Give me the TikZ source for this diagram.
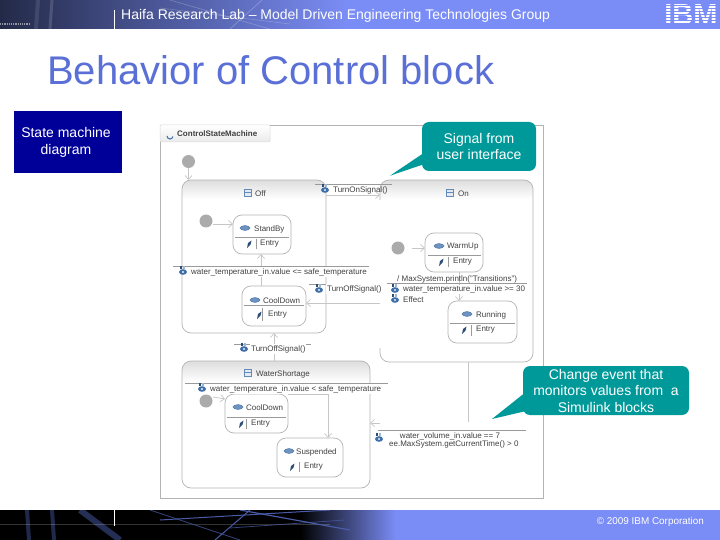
\documentclass[tikz,border=0pt]{standalone}
\usepackage{fontspec}
\setmainfont{Liberation Sans}
\usetikzlibrary{arrows.meta,calc}
\definecolor{bandblue}{HTML}{7A8CF5}
\definecolor{bandmid}{HTML}{4A5CA8}
\definecolor{banddark}{HTML}{232A48}
\definecolor{titleblue}{HTML}{5B70D6}
\definecolor{boxblue}{HTML}{000099}
\definecolor{teal}{HTML}{009999}
\definecolor{conncol}{HTML}{C6C6C6}
\definecolor{framecol}{HTML}{B4B4B4}
\definecolor{linecol}{HTML}{9A9A9A}
\definecolor{evblue}{HTML}{3F6FA8}
\definecolor{initcol}{HTML}{ABABAB}
\definecolor{txtcol}{HTML}{404040}
\tikzset{
  stbox/.style={draw=framecol,line width=.7pt,fill=white,rounded corners=9pt,outer sep=0pt,inner sep=0pt,
    path picture={\foreach \k in {1,...,#1} {
      \pgfmathsetmacro{\shd}{14*(1-\k/#1)}
      \fill[black!\shd,draw=none,rounded corners=0pt]
      ([yshift=-\k+1]path picture bounding box.north west) rectangle ([yshift=-\k]path picture bounding box.north east);}}},
  stbox/.default=20,
  flatbox/.style={draw=framecol,line width=.7pt,fill=white,rounded corners=9pt,outer sep=0pt,inner sep=0pt},
  initdot/.style={circle,fill=initcol,minimum size=13pt,inner sep=0pt,outer sep=0pt},
  conn/.style={draw=conncol,line width=.7pt,-{Straight Barb[length=4pt,width=7pt]}},
  plain/.style={draw=conncol,line width=.7pt},
  rule/.style={draw=linecol,line width=.6pt},
  lbl/.style={anchor=west,inner sep=0pt,text=txtcol,font=\fontsize{8}{9.5}\selectfont},
  lblw/.style={lbl,fill=white,inner xsep=1pt,inner ysep=1pt},
  callout/.style={fill=teal,rounded corners=7pt,text=white,align=center,inner sep=0pt,
    font=\fontsize{14}{16.5}\selectfont,outer sep=0pt},
  bandtext/.style={text=white,inner sep=0pt}
}
\newcommand\evicon[2]{\begin{scope}[shift={(#1,#2)}]
  \fill[evblue] (0,0) ellipse [x radius=4pt,y radius=2.8pt];
  \fill[white] (0,0) ellipse [x radius=1.2pt,y radius=.9pt];
  \fill[evblue!70!black] (-3,-6) rectangle (-1,-3);
  \fill[evblue!50] (0,-6) rectangle (2,-3);
\end{scope}}
\newcommand\sticon[2]{\fill[evblue!75,draw=evblue] (#1,#2) ellipse [x radius=5pt,y radius=2.4pt];}
\newcommand\regicon[2]{\begin{scope}[shift={(#1,#2)}]
  \draw[evblue!80,fill=evblue!15,line width=.6pt] (-3.5,-3.5) rectangle (3.5,3.5);
  \draw[evblue!80,line width=.6pt] (-3.5,-1) -- (3.5,-1);
\end{scope}}
\newcommand\penicon[2]{\fill[evblue!70!black] (#1-2,#2+4) -- (#1-1,#2-1) -- (#1+2.5,#2-3.5) -- (#1+1.5,#2+.5) -- cycle;}
\begin{document}
\begin{tikzpicture}[x=1pt,y=-1pt]
\useasboundingbox (0,0) rectangle (720,540);
\fill[white] (0,0) rectangle (720,540);
% header band
\fill[bandblue] (0,0) rectangle (720,29);
\shade[left color=banddark,right color=bandblue] (0,0) rectangle (345,29);
\begin{scope}
  \clip (0,0) rectangle (345,29);
  \draw[white,opacity=.14,line width=3pt] (52,0) -- (50,29);
  \draw[white,opacity=.1,line width=4pt] (38,0) -- (36,29);
  \draw[white,opacity=.22,line width=.7pt] (170,0) -- (270,29);
  \draw[white,opacity=.25,line width=.7pt] (230,29) -- (262,0);
  \draw[white,opacity=.2,line width=.7pt] (160,8) -- (290,24);
  \draw[white,opacity=.5,line width=1.4pt,dash pattern=on 1.2pt off 1pt] (0,24) -- (30,24);
\end{scope}
\node[bandtext,anchor=west,font=\fontsize{14}{16}\selectfont] (hdr) at (121,16) {Haifa Research Lab – Model Driven Engineering Technologies Group};
\draw[white,line width=.7pt] (114,10) -- (114,30);
% IBM logo
\node[inner sep=0pt,text=white,font=\fontsize{29}{29}\bfseries\selectfont] (ibm) at (691,15) {IBM};
\foreach \yy in {6,9,...,27} {\draw[bandblue,line width=1pt] (660,\yy) -- (720,\yy);}
% title
\node[anchor=west,inner sep=0pt,text=titleblue,font=\fontsize{40}{46}\selectfont] (title) at (47,70) {Behavior of Control block};
% footer band
\fill[bandblue] (0,510) rectangle (720,540);
\fill[black] (0,510) rectangle (300,540);
\shade[left color=black,right color=bandblue] (300,510) rectangle (395,540);
\begin{scope}
  \clip (0,510) rectangle (395,540);
  \draw[bandmid,opacity=.45,line width=4pt] (27,510) -- (29,540);
  \draw[bandmid,opacity=.45,line width=4pt] (52,510) -- (54,540);
  \draw[bandmid,opacity=.5,line width=6pt] (80,510) -- (120,540);
  \draw[white,opacity=.2,line width=.6pt] (0,524) -- (330,524);
  \draw[bandmid,line width=1pt] (160,520) -- (330,510);
  \draw[bandmid,line width=1pt] (215,540) -- (250,510);
  \draw[bandmid,line width=1.2pt] (240,510) -- (350,530);
  \draw[bandmid,opacity=.7,line width=.8pt] (150,510) -- (240,540);
  \draw[bandmid,opacity=.7,line width=.8pt] (230,528) -- (345,520);
\end{scope}
\draw[white,line width=.7pt] (114,510) -- (114,526);
\node[bandtext,anchor=east,font=\fontsize{9.9}{11}\selectfont] (copy) at (704,521.5) {© 2009 IBM Corporation};
% left box
\node[fill=boxblue,minimum width=108pt,minimum height=62pt,inner sep=0pt] (smbox) at (68,142) {};
\node[text=white,align=center,inner sep=0pt,font=\fontsize{14}{17}\selectfont] (smtxt) at (66,142) {State machine\\diagram};
% canvas
\node[draw=framecol,line width=.7pt,fill=white,minimum width=383pt,minimum height=373pt,inner sep=0pt,outer sep=0pt] (canvas) at (351.5,311.5) {};
\node[draw=framecol!50,line width=.5pt,top color=white,bottom color=black!8,rounded corners=1pt,minimum width=110pt,minimum height=17pt,inner sep=0pt] (tab) at (215,133.5) {};
\draw[evblue,line width=1pt] (167,136) arc[start angle=180,end angle=350,radius=3pt];
\node[lbl,font=\fontsize{8}{9.5}\bfseries\selectfont] (tabtxt) at (177,134) {ControlStateMachine};
% big states
\node[stbox,minimum width=144pt,minimum height=153pt] (off) at (254,256.5) {};
\node[stbox,minimum width=153pt,minimum height=182pt] (on) at (456.5,271) {};
\node[stbox=22,minimum width=188pt,minimum height=127pt] (water) at (276,424.5) {};
\fill[white] (379,200) rectangle (381,348);
% inner states
\node[flatbox,minimum width=58pt,minimum height=39pt] (standby) at (262,234.5) {};
\node[flatbox,minimum width=64pt,minimum height=40pt] (cooldown) at (274,306) {};
\node[flatbox,minimum width=58pt,minimum height=39pt] (warmup) at (454,252.5) {};
\node[flatbox,minimum width=69pt,minimum height=42pt] (running) at (482.5,322) {};
\node[flatbox,minimum width=63pt,minimum height=39pt] (cooldownb) at (256.5,413.5) {};
\node[flatbox,minimum width=66pt,minimum height=39pt] (suspended) at (310,457.5) {};
% initial pseudostates
\node[initdot] (i1) at (188.5,161.5) {};
\node[initdot] (i2) at (206,221) {};
\node[initdot] (i3) at (398,248) {};
\node[initdot] (i4) at (206,401) {};
% helper coordinates
\coordinate (offtop) at (188.5,180);
\coordinate (onrun) at (468,362);
\coordinate (onelbow) at (468,422);
\coordinate (wsarrow) at (380,423);
\coordinate (wsend) at (370,423);
\coordinate (sbin) at (233,224);
\coordinate (i2out) at (213,224);
\coordinate (elbowb) at (328,394);
% connectors
\draw[conn] (i1) -- (offtop);
\draw[conn] (i2out) -- (sbin);
\draw[conn] (cooldown.north -| 261,0) -- (standby.south -| 261,0);
\draw[conn] (off.east |- 0,195) -- (on.west |- 0,195);
\draw[conn] (on.west |- 0,303) -- (cooldown.east |- 0,303);
\draw[conn] (warmup.south -| 459,0) -- (running.north -| 459,0);
\draw[conn] (i3) ++(14,0) -- (warmup.west |- i3);
\draw[conn] (water.north -| 274,0) -- (off.south -| 274,0);
\draw[plain] (cooldownb.east |- elbowb) -- (elbowb);
\draw[conn] (elbowb) -- (suspended.north -| elbowb);
\draw[conn] (213,397) -- (cooldownb.west |- 0,399);
\draw[plain] (onrun) -- (onelbow);
\draw[conn] (wsarrow) -- (wsend);
% state titles
\regicon{248}{193}
\node[lbl] (tOff) at (255,194) {Off};
\regicon{450}{193}
\node[lbl] (tOn) at (458,194) {On};
\regicon{248}{373}
\node[lbl] (tWater) at (256,374) {WaterShortage};
% substate compartments
\draw[rule] (235,237) -- (289,237);
\sticon{245}{228}
\node[lbl] (tSb) at (254,229) {StandBy};
\penicon{249}{244}
\draw[rule] (256,239) -- (256,249);
\node[lbl] (eSb) at (260,243.5) {Entry};
\draw[rule] (244,305) -- (304,305);
\sticon{255}{300}
\node[lbl] (tCd) at (263,301) {CoolDown};
\penicon{259}{315}
\draw[rule] (262,308) -- (262,321);
\node[lbl] (eCd) at (268,315) {Entry};
\draw[rule] (428,255) -- (481,255);
\sticon{439}{246}
\node[lbl] (tWu) at (447,247) {WarmUp};
\penicon{441}{262}
\draw[rule] (448,257) -- (448,267);
\node[lbl] (eWu) at (453,261.5) {Entry};
\draw[rule] (450,323) -- (515,323);
\sticon{467}{314}
\node[lbl] (tRn) at (476,315) {Running};
\penicon{464}{330}
\draw[rule] (471,325) -- (471,336);
\node[lbl] (eRn) at (476,329.5) {Entry};
\draw[rule] (227,417) -- (286,417);
\sticon{238}{407}
\node[lbl] (tCb) at (246,408) {CoolDown};
\penicon{241}{424}
\draw[rule] (246,419) -- (246,429);
\node[lbl] (eCb) at (251,423.5) {Entry};
\sticon{289}{451}
\node[lbl] (tSu) at (296,452) {Suspended};
\penicon{292}{467}
\draw[rule] (299,462) -- (299,472);
\node[lbl] (eSu) at (304,467) {Entry};
% transition labels
\draw[rule] (315,184) -- (392,184);
\evicon{325}{190}
\node[lbl] (lOn) at (333,190) {TurnOnSignal()};
\draw[rule] (173,266) -- (369,266);
\evicon{183}{272}
\node[lblw] (lCool) at (190,272) {water\_temperature\_in.value <= safe\_temperature};
\draw[rule] (309,284) -- (381,284);
\evicon{319}{290}
\node[lblw] (lOff) at (326,289) {TurnOffSignal()};
\draw[rule] (387,283) -- (527,283);
\node[lbl] (lMax) at (397,279.5) {/ MaxSystem.println("Transitions")};
\evicon{395}{290}
\node[lblw] (lTemp) at (402,289.5) {water\_temperature\_in.value >= 30};
\evicon{395}{300}
\node[lbl] (lEff) at (403,300) {Effect};
\draw[rule] (234,344) -- (311,344);
\node[lblw,minimum height=9pt] (lOffb) at (250,349) {TurnOffSignal()};
\evicon{244}{349}
\draw[rule] (185,383) -- (388,383);
\evicon{202}{389}
\node[lblw] (lSafe) at (209,389) {water\_temperature\_in.value < safe\_temperature};
\draw[rule] (378,430) -- (526,430);
\evicon{379}{439}
\node[lbl,anchor=center] (lVol) at (450,436) {water\_volume\_in.value == 7};
\node[lbl] (lGet) at (389,444) {ee.MaxSystem.getCurrentTime() > 0};
% callouts
\node[callout,minimum width=114pt,minimum height=49pt] (cSig) at (479,146.5) {Signal from\\user interface};
\coordinate (tipA) at (390,175.7);
\fill[teal] ($(cSig.west)+(1,7)$) -- (tipA) -- ($(cSig.west)+(1,18)$) -- cycle;
\node[callout,minimum width=166pt,minimum height=49pt] (cChg) at (606,390.5) {Change event that\\monitors values from\ \ a\\Simulink blocks};
\coordinate (tipB) at (492,419);
\fill[teal] ($(cChg.west)+(1,3)$) -- (tipB) -- ($(cChg.west)+(1,21)$) -- cycle;
\end{tikzpicture}
\end{document}
